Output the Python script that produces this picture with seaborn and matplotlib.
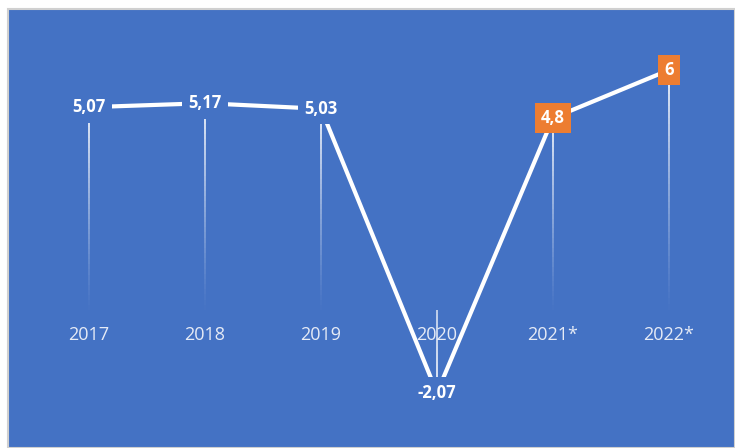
import matplotlib
matplotlib.use("Agg")
import matplotlib.pyplot as plt
import seaborn as sns
import pandas as pd
import numpy as np
from matplotlib.patches import Rectangle
from matplotlib.collections import LineCollection

years = ["2017", "2018", "2019", "2020", "2021*", "2022*"]
values = [5.07, 5.17, 5.03, -2.07, 4.8, 6.0]
labels = ["5,07", "5,17", "5,03", "-2,07", "4,8", "6"]
forecast = [False, False, False, False, True, True]

BLUE = "#4472C4"
ORANGE = "#ED7D31"

sns.set_theme(style="white")
plt.rcParams['font.family'] = ['Open Sans', 'DejaVu Sans']

W, H = 735, 448
fig = plt.figure(figsize=(W / 100, H / 100), dpi=100)
fig.patch.set_facecolor("white")
fig.add_artist(Rectangle((8 / W, 0), (W - 8) / W, (H - 9) / H, transform=fig.transFigure,
                         facecolor=BLUE, edgecolor="#d0d0d0", linewidth=1.5, zorder=0))

ax_left, ax_right = 31, 727
ax_top, ax_bot = 20, 440
ax = fig.add_axes([ax_left / W, (H - ax_bot) / H, (ax_right - ax_left) / W, (ax_bot - ax_top) / H])
ax.set_facecolor("none")

df = pd.DataFrame({"year": years, "value": values, "x": np.arange(len(years))})

# drop lines with gradient
segs, cols = [], []
n = 40
for xi, v in zip(df["x"], df["value"]):
    ys = np.linspace(v, 0, n + 1)
    for k in range(n):
        segs.append([(xi, ys[k]), (xi, ys[k + 1])])
        if v > 0:
            a = 0.95 * (1 - k / n) ** 1.2
        else:
            a = 0.9 - 0.2 * k / n
        cols.append((1, 1, 1, a))
ax.add_collection(LineCollection(segs, colors=cols, linewidths=1.3, zorder=1))

sns.lineplot(data=df, x="x", y="value", color="white", linewidth=3, ax=ax, zorder=2,
             solid_capstyle="butt")

for xi, v, lab, fc in zip(df["x"], df["value"], labels, forecast):
    face = ORANGE if fc else BLUE
    ax.text(xi, v, lab, ha="center", va="center", color="white", fontsize=12,
            fontweight="bold", zorder=5,
            bbox=dict(boxstyle="square,pad=0.38", facecolor=face, edgecolor="none"))

ax.set_xlim(-0.5, 5.5)
ax.set_ylim(-3.25, 7.25)
ax.set_xticks(df["x"])
ax.set_xticklabels(years)
ax.set_yticks([])
ax.spines["bottom"].set_position(("data", 0))
for s in ax.spines.values():
    s.set_color("none")
ax.tick_params(axis="x", length=0, pad=11.5, labelcolor="#e6ebf6", labelsize=13)
ax.set_xlabel("")
ax.set_ylabel("")

fig.savefig("out.png", dpi=100)
